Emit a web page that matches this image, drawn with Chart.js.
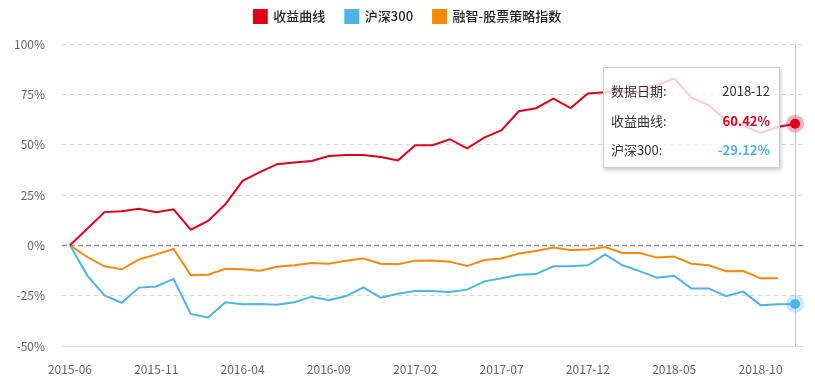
<!DOCTYPE html>
<html><head><meta charset="utf-8">
<script src="https://cdn.jsdelivr.net/npm/chart.js@4"></script>
<style>
html,body{margin:0;padding:0;background:#fff;}
#wrap{position:relative;width:815px;height:388px;overflow:hidden;}
#tip{position:absolute;box-sizing:border-box;width:177px;height:101px;background:rgba(255,255,255,0.8);border:1px solid #cfcfcf;box-shadow:1px 2px 4px rgba(0,0,0,0.22);font-family:"Noto Sans CJK SC","Noto Sans",sans-serif;font-size:13px;color:#333;padding:8px 9px 0 7px;}
#tip .row{display:flex;justify-content:space-between;height:29.5px;line-height:29.5px;white-space:nowrap;}
#tip b{font-weight:bold;}
</style></head><body>
<div id="wrap"><canvas id="c" width="815" height="388"></canvas><div id="tip"></div></div>
<script>
const months = ["2015-06","2015-07","2015-08","2015-09","2015-10","2015-11","2015-12",
 "2016-01","2016-02","2016-03","2016-04","2016-05","2016-06","2016-07","2016-08","2016-09","2016-10","2016-11","2016-12",
 "2017-01","2017-02","2017-03","2017-04","2017-05","2017-06","2017-07","2017-08","2017-09","2017-10","2017-11","2017-12",
 "2018-01","2018-02","2018-03","2018-04","2018-05","2018-06","2018-07","2018-08","2018-09","2018-10","2018-11","2018-12"];
const tickIndexes = [0,5,10,15,20,25,30,35,40];
const yTicks = [-50,-25,0,25,50,75,100];
const seriesNames = ["收益曲线","沪深300","融智-股票策略指数"];
const strategy = [0,8.2,16.5,16.9,18.2,16.4,17.9,7.8,12.1,20.4,32.0,36.4,40.3,41.1,41.9,44.4,44.9,44.9,43.9,42.2,49.7,49.7,52.7,48.2,53.5,57.2,66.6,68.1,72.9,68.2,75.4,76.0,76.6,76.0,79.5,82.9,73.4,69.6,62.1,59.6,55.8,58.8,60.42];
const hs300 = [0,-14.9,-24.9,-28.5,-21.0,-20.4,-16.7,-34.1,-35.8,-28.3,-29.3,-29.2,-29.5,-28.3,-25.5,-27.3,-25.2,-20.9,-26.0,-24.0,-22.7,-22.7,-23.2,-22.0,-17.9,-16.4,-14.6,-14.3,-10.4,-10.4,-9.9,-4.5,-9.9,-12.8,-16.1,-15.1,-21.5,-21.4,-25.3,-23.0,-29.7,-29.3,-29.12];
const rzIndex = [0,-5.8,-10.4,-11.9,-7.0,-4.5,-1.8,-14.9,-14.6,-11.6,-11.9,-12.6,-10.6,-9.9,-8.8,-9.1,-7.6,-6.5,-9.1,-9.4,-7.6,-7.5,-8.1,-10.3,-7.3,-6.5,-4.1,-2.8,-1.1,-2.3,-2.1,-0.8,-3.8,-3.8,-6.1,-5.6,-9.1,-9.9,-12.9,-12.8,-16.4,-16.3,null];
const colors = ["#dc001b","#4fb3e8","#f7890c"];
const activeIndex = 42;

const toXY = arr => arr.map((v,i)=>({x:i,y:v}));
const FONT = '"Noto Sans CJK SC","Noto Sans",sans-serif';

const legendFit = {
  id:'legendFit',
  beforeInit(chart){
    const orig = chart.legend.fit;
    chart.legend.fit = function(){ orig.bind(chart.legend)(); this.height = 54; };
  },
  afterLayout(chart){
    chart.legend.left += 6; chart.legend.right += 6;
  }
};

const overlay = {
  id:'overlay',
  beforeDatasetsDraw(chart){
    const {ctx, chartArea:a, scales:{y}} = chart;
    ctx.save();
    const y0 = Math.round(y.getPixelForValue(0))+0.5;
    ctx.strokeStyle='#8e8e8e'; ctx.lineWidth=1.3; ctx.setLineDash([5,3]);
    ctx.beginPath(); ctx.moveTo(a.left,y0); ctx.lineTo(a.right,y0); ctx.stroke();
    ctx.setLineDash([]); ctx.strokeStyle='#dddddd'; ctx.lineWidth=1;
    const yb = Math.round(y.getPixelForValue(-50))+0.5;
    ctx.beginPath(); ctx.moveTo(a.left,yb); ctx.lineTo(a.right,yb); ctx.stroke();
    const x = Math.round(chart.getDatasetMeta(0).data[activeIndex].x)+0.5;
    ctx.strokeStyle='#c5ccd6';
    ctx.beginPath(); ctx.moveTo(x,a.top); ctx.lineTo(x,a.bottom); ctx.stroke();
    ctx.restore();
  },
  afterDatasetsDraw(chart){
    const {ctx} = chart;
    ctx.save();
    [0,1].forEach(d=>{
      const p = chart.getDatasetMeta(d).data[activeIndex];
      ctx.globalAlpha=0.3; ctx.fillStyle=colors[d];
      ctx.beginPath(); ctx.arc(p.x,p.y,9,0,Math.PI*2); ctx.fill();
      ctx.globalAlpha=1;
      ctx.beginPath(); ctx.arc(p.x,p.y,5,0,Math.PI*2); ctx.fill();
    });
    ctx.restore();
    const p0 = chart.getDatasetMeta(0).data[activeIndex];
    const tip = document.getElementById('tip');
    tip.style.left = (p0.x - 192) + 'px';
    tip.style.top = (chart.chartArea.top + 23) + 'px';
    tip.innerHTML =
      '<div class="row"><span>数据日期:</span><span>'+months[activeIndex]+'</span></div>'+
      '<div class="row"><span>'+seriesNames[0]+':</span><b style="color:'+colors[0]+'">'+strategy[activeIndex].toFixed(2)+'%</b></div>'+
      '<div class="row"><span>'+seriesNames[1]+':</span><b style="color:'+colors[1]+'">'+hs300[activeIndex].toFixed(2)+'%</b></div>';
  }
};

new Chart(document.getElementById('c'), {
  type:'line',
  data:{
    datasets:[
      {label:seriesNames[0], data:toXY(strategy), borderColor:colors[0], backgroundColor:colors[0]},
      {label:seriesNames[1], data:toXY(hs300), borderColor:colors[1], backgroundColor:colors[1]},
      {label:seriesNames[2], data:toXY(rzIndex), borderColor:colors[2], backgroundColor:colors[2]}
    ]
  },
  options:{
    responsive:false, animation:false, events:[],
    elements:{line:{borderWidth:2, tension:0}, point:{radius:0, hoverRadius:0}},
    layout:{padding:{top:-10,left:0,right:12,bottom:11}},
    plugins:{
      tooltip:{enabled:false},
      legend:{position:'top', labels:{boxWidth:13, boxHeight:13, padding:20, color:'#222', font:{family:FONT, size:13, weight:'500'}}}
    },
    scales:{
      x:{type:'linear', min:-0.46, max:42.46,
        afterBuildTicks(s){ s.ticks = tickIndexes.map(v=>({value:v})); },
        afterFit(s){ s.height = 31; },
        grid:{display:false, drawTicks:false}, border:{display:false},
        ticks:{padding:16, color:'#666', font:{family:FONT, size:12}, maxRotation:0, autoSkip:false,
          callback:(v)=>months[v]}
      },
      y:{min:-50, max:100,
        afterBuildTicks(s){ s.ticks = yTicks.map(v=>({value:v})); },
        afterFit(s){ s.width = 62; },
        grid:{drawTicks:false, color:(c)=> (c.tick && (c.tick.value===0 || c.tick.value===-50)) ? 'rgba(0,0,0,0)' : '#d4d4d4'},
        border:{display:false, dash:[4,4]},
        ticks:{padding:17, color:'#666', font:{family:FONT, size:12}, callback:(v)=>v+'%'}
      }
    }
  },
  plugins:[legendFit, overlay]
});
</script>
</body></html>
